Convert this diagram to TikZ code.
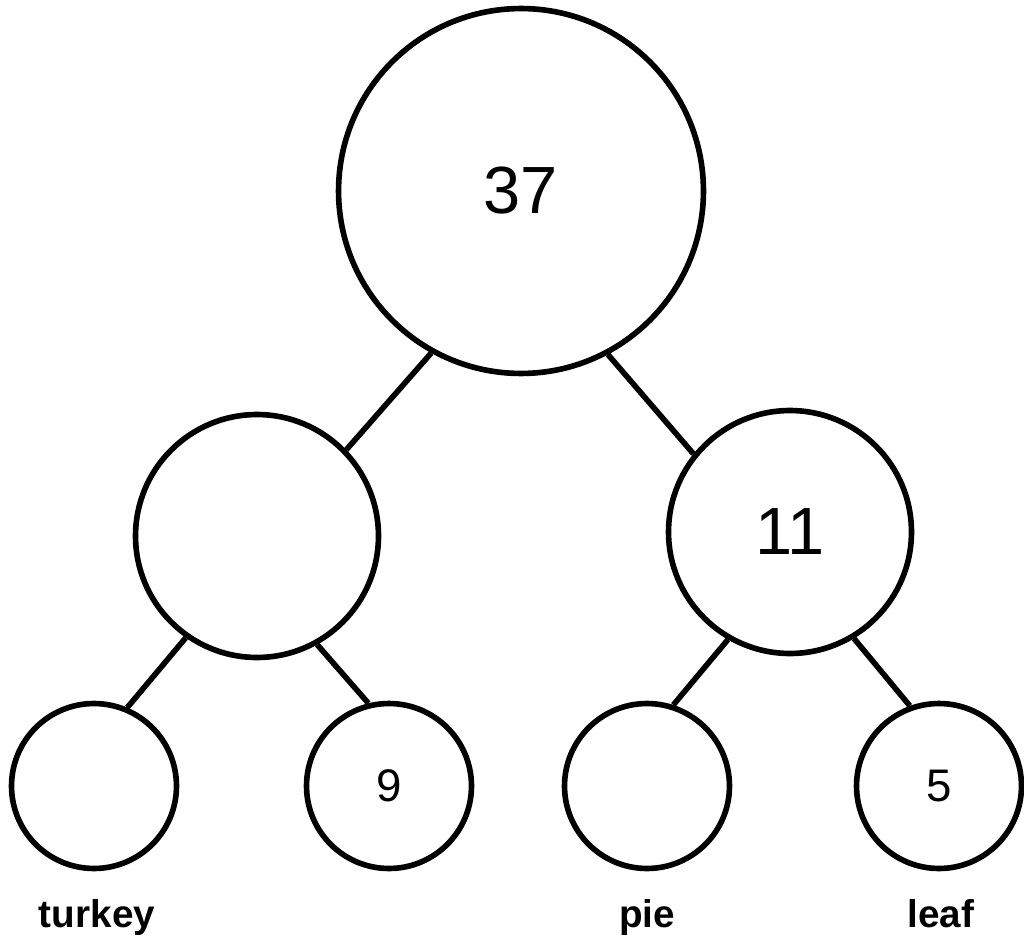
\documentclass[tikz,border=0pt]{standalone}
\usepackage{fontspec}
\setmainfont{Liberation Sans}
\usepackage{tikz}

\begin{document}
\begin{tikzpicture}[x=0.02cm,y=-0.02cm,
    vertex/.style={circle,draw,line width=3.2pt,inner sep=0pt},
    bignode/.style={vertex,minimum size=7.3cm,font=\fontsize{38}{40}\selectfont},
    midnode/.style={vertex,minimum size=4.86cm,font=\fontsize{38}{40}\selectfont},
    leafnode/.style={vertex,minimum size=3.3cm,font=\fontsize{26}{28}\selectfont},
    word/.style={anchor=base,font=\fontsize{22}{24}\selectfont\bfseries},
    edge/.style={line width=3.2pt}]
  \useasboundingbox (0,0) rectangle (1024,939);
  % top of the tree
  \node[bignode] (top) at (521,191) {37};
  % middle row
  \node[midnode] (midA) at (257,536) {};
  \node[midnode] (midB) at (790,532) {11};
  % leaves
  \node[leafnode] (leafA) at (94,786) {};
  \node[leafnode] (leafB) at (389,786) {9};
  \node[leafnode] (leafC) at (647,786) {};
  \node[leafnode] (leafD) at (939,786) {5};
  % words under the leaves
  \node[word] (wA) at (97,927) {turkey};
  \node[word] (wC) at (647,927) {pie};
  \node[word] (wD) at (941,927) {leaf};
  % edges
  \draw[edge] (top.241)--(midA.44);
  \draw[edge] (top.298)--(midB.141);
  \draw[edge] (midA.235)--(leafA.67);
  \draw[edge] (midA.299)--(leafB.104);
  \draw[edge] (midB.240)--(leafC.72);
  \draw[edge] (midB.301)--(leafD.110);
\end{tikzpicture}
\end{document}
